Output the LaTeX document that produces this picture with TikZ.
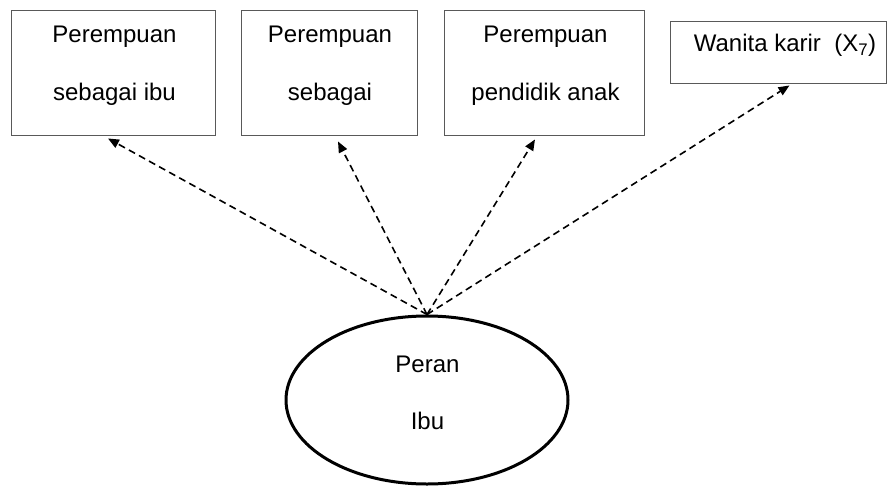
\documentclass[tikz,border=0pt]{standalone}
\usepackage{fontspec}
\setmainfont{Liberation Sans}
\usetikzlibrary{shapes.geometric,arrows.meta}
\begin{document}
\begin{tikzpicture}[x=1pt,y=-1pt,
    box/.style={draw=black!65,line width=0.9pt,rectangle,inner sep=0pt},
    lbl/.style={anchor=base,inner sep=0pt,font=\fontsize{24}{28}\selectfont},
    link/.style={dash pattern=on 7pt off 4.5pt,line width=1.6pt,-{Triangle[length=11pt,width=9pt]}}]
    \useasboundingbox (0,0) rectangle (888,487);
    % indikator
    \node[box,minimum width=204pt,minimum height=125pt] (b1) at (113,72.5) {};
    \node[box,minimum width=176pt,minimum height=125pt] (b2) at (329,72.5) {};
    \node[box,minimum width=200pt,minimum height=125pt] (b3) at (544,72.5) {};
    \node[box,minimum width=216pt,minimum height=62pt] (b4) at (778.5,52) {};
    \node[lbl] (t1a) at (114.5,42) {Perempuan};
    \node[lbl] (t1b) at (114.5,100) {sebagai ibu};
    \node[lbl] (t2a) at (330,42) {Perempuan};
    \node[lbl] (t2b) at (330,100) {sebagai};
    \node[lbl] (t3a) at (545.5,42) {Perempuan};
    \node[lbl] (t3b) at (545.5,100) {pendidik anak};
    \node[lbl] (t4) at (785,52) {Wanita karir\ \ (X\textsubscript{7})};
    % variabel laten
    \node[ellipse,draw,line width=3pt,minimum width=282pt,minimum height=168pt] (peran) at (427,400) {};
    \node[lbl] (p1) at (427.5,372) {Peran};
    \node[lbl] (p2) at (427.5,429) {Ibu};
    \draw[link] (peran.north) -- ([xshift=-5pt,yshift=-3pt]b1.south);
    \draw[link] (peran.north) -- ([xshift=9pt,yshift=-6pt]b2.south);
    \draw[link] (peran.north) -- ([xshift=-9pt,yshift=-4pt]b3.south);
    \draw[link] (peran.north) -- ([xshift=11pt,yshift=-2pt]b4.south);
\end{tikzpicture}
\end{document}
